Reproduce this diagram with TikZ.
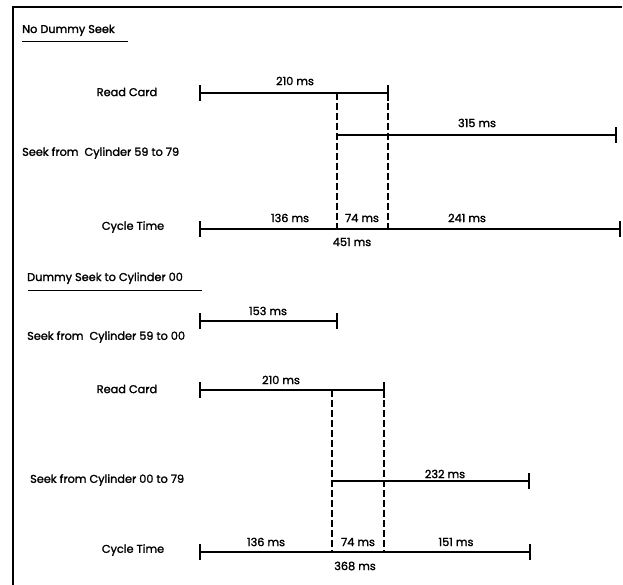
\documentclass[tikz,border=0pt]{standalone}
\usepackage{fontspec}
\setmainfont{Poppins}[BoldFont={Poppins},BoldFeatures={FakeBold=1.6}]
\begin{document}
\begin{tikzpicture}[x=1pt,y=-1pt,
  lbl/.style={font=\fontsize{11.3}{12}\selectfont\bfseries, inner sep=0pt},
  ms/.style={font=\fontsize{11.3}{12}\selectfont\bfseries, inner sep=0pt},
  tline/.style={line width=1.4pt},
  tickline/.style={line width=1.1pt},
  dline/.style={line width=1.1pt, dash pattern=on 7pt off 3pt},
  frame/.style={line width=1.6pt}]
\useasboundingbox (0,0) rectangle (623,585);
% frame
\coordinate (f1) at (13,585);
\coordinate (f2) at (13,7);
\coordinate (f3) at (622,7);
\draw[frame] (f1) -- (f2) -- (f3);

% ---------- No Dummy Seek ----------
\node[lbl, anchor=base west] (t1) at (22,33) {No Dummy Seek};
\coordinate (u1a) at (22,42); \coordinate (u1b) at (128,42);
\draw[line width=1pt] (u1a) -- (u1b);

\node[lbl] (rc1) at (127,92) {Read Card};
\coordinate (rc1a) at (200,93); \coordinate (rc1b) at (388,93);
\draw[tline] (rc1a) -- (rc1b);
\node[ms] (m210a) at (295,81) {210 ms};

\coordinate (d1a) at (337,93); \coordinate (d1b) at (337,229);
\coordinate (d2a) at (388,93); \coordinate (d2b) at (388,229);
\draw[dline] (d1a) -- (d1b);
\draw[dline] (d2a) -- (d2b);

\node[lbl, anchor=west] (sk1) at (22,153) {Seek from\ \ Cylinder 59 to 79};
\coordinate (sk1a) at (337,135); \coordinate (sk1b) at (616,135);
\draw[tline] (sk1a) -- (sk1b);
\node[ms] (m315) at (477,123) {315 ms};

\node[lbl] (ct1) at (133,227) {Cycle Time};
\coordinate (ct1a) at (200,229); \coordinate (ct1b) at (620,229);
\draw[tline] (ct1a) -- (ct1b);
\node[ms] (m136a) at (290,218) {136 ms};
\node[ms] (m74a) at (362,218) {74 ms};
\node[ms] (m241) at (467,218) {241 ms};
\node[ms] (m451) at (352,242) {451 ms};

% ---------- Dummy Seek to Cylinder 00 ----------
\node[lbl, anchor=base west] (t2) at (27,281) {Dummy Seek to Cylinder 00};
\coordinate (u2a) at (28,290); \coordinate (u2b) at (202,290);
\draw[line width=1pt] (u2a) -- (u2b);

\coordinate (s0a) at (200,321); \coordinate (s0b) at (337,321);
\draw[tline] (s0a) -- (s0b);
\node[ms] (m153) at (268,311) {153 ms};
\node[lbl, anchor=west] (sk2) at (27,337) {Seek from\ \ Cylinder 59 to 00};

\node[lbl] (rc2) at (127,389) {Read Card};
\coordinate (rc2a) at (200,390); \coordinate (rc2b) at (384,390);
\draw[tline] (rc2a) -- (rc2b);
\node[ms] (m210b) at (281,380) {210 ms};

\coordinate (d3a) at (332,390); \coordinate (d3b) at (332,552);
\coordinate (d4a) at (384,390); \coordinate (d4b) at (384,552);
\draw[dline] (d3a) -- (d3b);
\draw[dline] (d4a) -- (d4b);

\node[lbl, anchor=west] (sk3) at (30,480) {Seek from Cylinder 00 to 79};
\coordinate (sk3a) at (332,481); \coordinate (sk3b) at (529,481);
\draw[tline] (sk3a) -- (sk3b);
\node[ms] (m232) at (445,474) {232 ms};

\node[lbl] (ct2) at (133,550) {Cycle Time};
\coordinate (ct2a) at (200,552); \coordinate (ct2b) at (530,552);
\draw[tline] (ct2a) -- (ct2b);
\node[ms] (m136b) at (266,542) {136 ms};
\node[ms] (m74b) at (358,542) {74 ms};
\node[ms] (m151) at (456,542) {151 ms};
\node[ms] (m368) at (355,566) {368 ms};

% end ticks
\foreach \c in {rc1a,rc1b,sk1b,ct1a,ct1b,s0a,s0b,rc2a,rc2b,sk3b,ct2a,ct2b}
  \draw[tickline] ([yshift=-8pt]\c) -- ([yshift=8pt]\c);
\end{tikzpicture}
\end{document}
